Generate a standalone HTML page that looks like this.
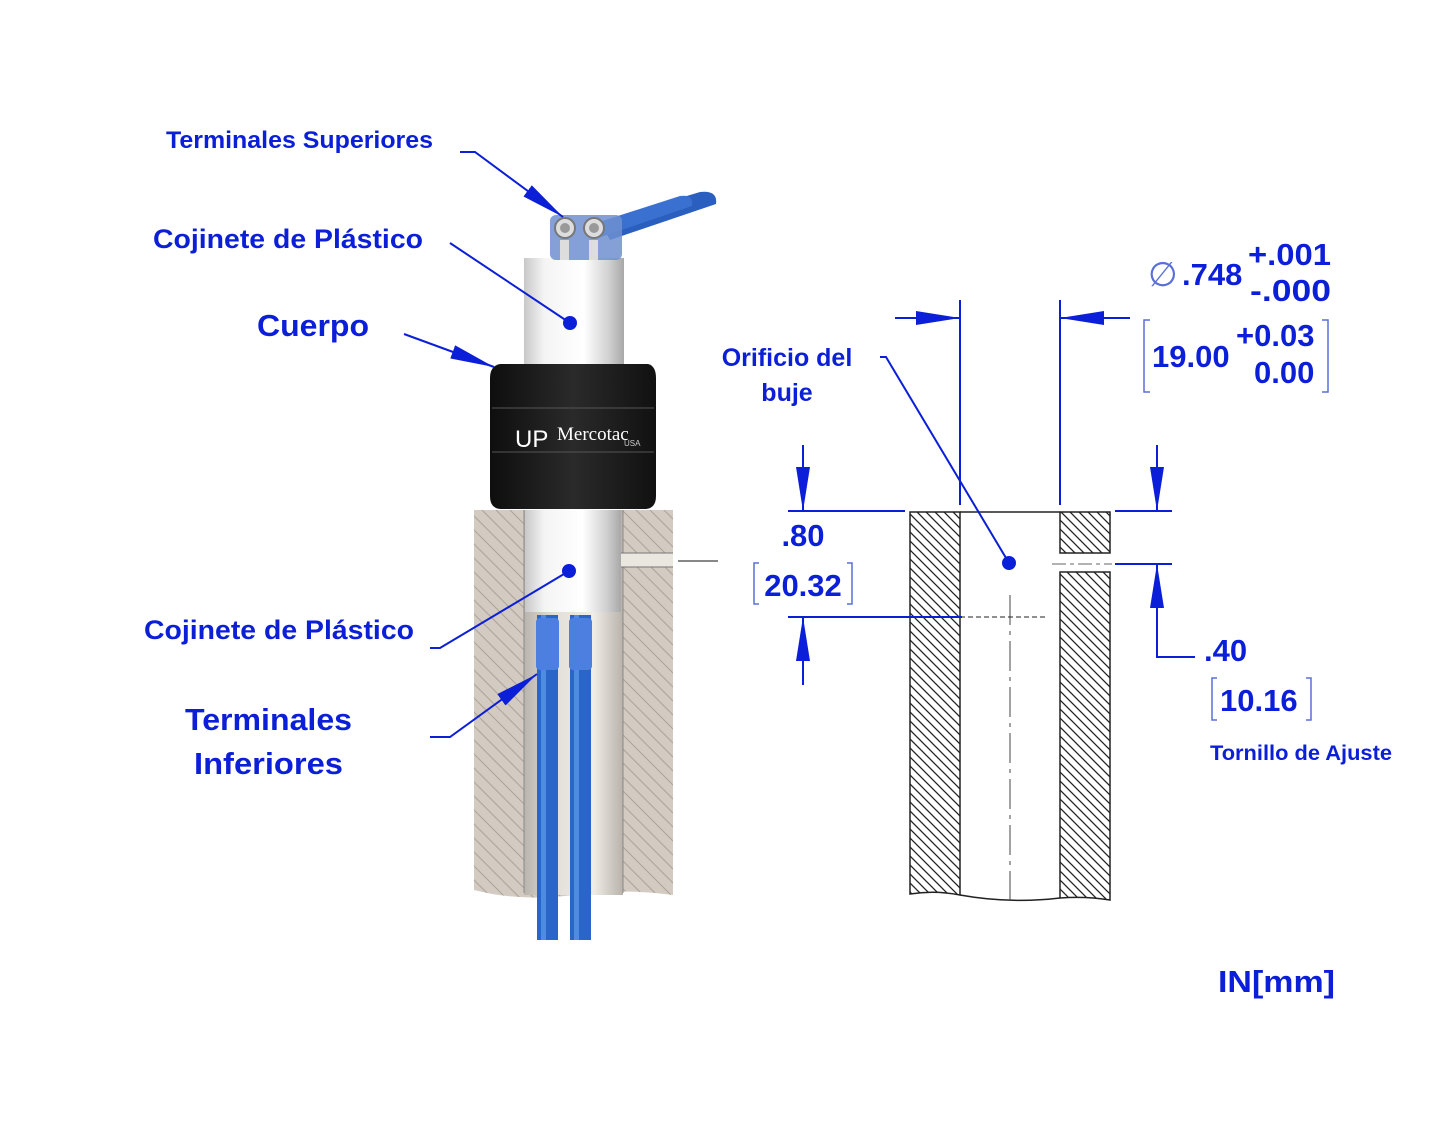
<!DOCTYPE html>
<html><head><meta charset="utf-8"><style>
html,body{margin:0;padding:0;background:#fff;}
svg{display:block;}
text{font-family:"Liberation Sans",sans-serif;font-weight:bold;fill:#0b1fd8;}
</style></head><body>
<svg width="1456" height="1125" viewBox="0 0 1456 1125" xmlns="http://www.w3.org/2000/svg">
<defs>
<pattern id="h1" width="14" height="14" patternUnits="userSpaceOnUse">
<rect width="14" height="14" fill="#d3cbc1"/><path d="M0,0 L14,14 M-3,11 L3,17 M11,-3 L17,3" stroke="#aba298" stroke-width="1"/></pattern>
<pattern id="h2" width="9" height="9" patternUnits="userSpaceOnUse">
<rect width="9" height="9" fill="#fff"/><path d="M0,0 L9,9 M-2,7 L2,11 M7,-2 L11,2" stroke="#222" stroke-width="1.3"/></pattern>
<linearGradient id="wc" x1="0" x2="1"><stop offset="0" stop-color="#c8c8c8"/><stop offset=".2" stop-color="#f4f4f4"/><stop offset=".6" stop-color="#fff"/><stop offset=".85" stop-color="#d0d0d0"/><stop offset="1" stop-color="#a8a8a8"/></linearGradient>
<linearGradient id="bk" x1="0" x2="1"><stop offset="0" stop-color="#0e0e0e"/><stop offset=".5" stop-color="#2a2a2a"/><stop offset="1" stop-color="#111"/></linearGradient>
<linearGradient id="bore" x1="0" x2="1"><stop offset="0" stop-color="#b9b4ad"/><stop offset=".3" stop-color="#e2ded8"/><stop offset=".7" stop-color="#f0ece7"/><stop offset="1" stop-color="#b8b2aa"/></linearGradient>
<marker id="ar2" viewBox="0 0 44 14" refX="44" refY="7" markerWidth="44" markerHeight="14" markerUnits="userSpaceOnUse" orient="auto"><path d="M0,0 L44,7 L0,14 Z" fill="#0b1fd8"/></marker>
</defs>

<path d="M474,510 H673 V895 Q620,888 573,895 Q520,902 474,890 Z" fill="url(#h1)"/>
<rect x="524" y="510" width="99" height="385" fill="url(#bore)"/>
<line x1="524" y1="510" x2="524" y2="893" stroke="#888"/>
<line x1="623" y1="510" x2="623" y2="893" stroke="#888"/>
<rect x="620" y="553" width="53" height="14" fill="#eae6e0"/>
<line x1="620" y1="553" x2="673" y2="553" stroke="#777"/><line x1="620" y1="567" x2="673" y2="567" stroke="#777"/>
<line x1="678" y1="561" x2="718" y2="561" stroke="#888" stroke-width="2"/>
<rect x="525" y="510" width="96" height="102" fill="url(#wc)"/>
<rect x="537" y="615" width="21" height="325" fill="#2a66c8"/>
<rect x="570" y="615" width="21" height="325" fill="#2a66c8"/>
<rect x="541" y="615" width="5" height="325" fill="#4f8be0"/>
<rect x="574" y="615" width="5" height="325" fill="#4f8be0"/>
<rect x="536" y="618" width="23" height="52" rx="4" fill="#4c7fe0"/>
<rect x="569" y="618" width="23" height="52" rx="4" fill="#4c7fe0"/>

<rect x="524" y="258" width="100" height="108" fill="url(#wc)"/>
<path d="M600,222 L700,192 Q718,190 716,204 L610,240 Z" fill="#2a5fc0"/>
<path d="M590,225 L680,196 Q694,194 692,206 L598,238 Z" fill="#3a70d0"/>
<rect x="550" y="215" width="72" height="45" rx="6" fill="#6f8fd0" opacity=".85"/>
<circle cx="565" cy="228" r="10" fill="#ddd" stroke="#777" stroke-width="2"/><circle cx="565" cy="228" r="5" fill="#999"/>
<circle cx="594" cy="228" r="10" fill="#ddd" stroke="#777" stroke-width="2"/><circle cx="594" cy="228" r="5" fill="#999"/>
<rect x="560" y="240" width="9" height="20" fill="#ddd"/><rect x="589" y="240" width="9" height="20" fill="#ddd"/>
<path d="M500,364 H648 Q656,366 656,378 V496 Q656,508 646,509 H500 Q490,508 490,496 V378 Q490,366 500,364 Z" fill="url(#bk)"/>
<line x1="492" y1="408" x2="654" y2="408" stroke="#555"/>
<line x1="492" y1="452" x2="654" y2="452" stroke="#555"/>
<text x="515" y="447" style="font-weight:normal;fill:#fff;font-size:24px">UP</text>
<text x="557" y="440" style="font-weight:normal;fill:#fff;font-size:19px;font-family:'Liberation Serif',serif">Mercotac</text>
<text x="624" y="446" style="font-weight:normal;fill:#ccc;font-size:8px">USA</text>

<text x="166" y="148" font-size="24" textLength="267" lengthAdjust="spacingAndGlyphs">Terminales Superiores</text>
<text x="153" y="248" font-size="27" textLength="270" lengthAdjust="spacingAndGlyphs">Cojinete de Plástico</text>
<text x="257" y="336" font-size="31" textLength="112" lengthAdjust="spacingAndGlyphs">Cuerpo</text>
<text x="144" y="639" font-size="27" textLength="270" lengthAdjust="spacingAndGlyphs">Cojinete de Plástico</text>
<text x="185" y="730" font-size="31" textLength="167" lengthAdjust="spacingAndGlyphs">Terminales</text>
<text x="194" y="774" font-size="31" textLength="149" lengthAdjust="spacingAndGlyphs">Inferiores</text>
<g stroke="#0b1fd8" stroke-width="2" fill="none">
<path d="M460,152 H475 L563,217" marker-end="url(#ar2)"/>
<path d="M450,243 L570,323"/>
<path d="M404,334 L494,367" marker-end="url(#ar2)"/>
<path d="M430,648 H440 L569,571"/>
<path d="M430,737 H450 L537,674" marker-end="url(#ar2)"/>
</g>
<circle cx="570" cy="323" r="7" fill="#0b1fd8"/>
<circle cx="569" cy="571" r="7" fill="#0b1fd8"/>

<path d="M910,512 H960 V895 Q935,890 910,894 Z" fill="url(#h2)" stroke="#222" stroke-width="1.5"/>
<path d="M1060,512 H1110 V553 H1060 Z M1060,572 H1110 V900 Q1085,896 1060,898 Z" fill="url(#h2)" stroke="#222" stroke-width="1.5"/>
<line x1="960" y1="512" x2="1060" y2="512" stroke="#222" stroke-width="1.5"/>
<path d="M960,895 Q1010,904 1060,898" stroke="#222" stroke-width="1.5" fill="none"/>
<line x1="1060" y1="553" x2="1110" y2="553" stroke="#222"/><line x1="1060" y1="572" x2="1110" y2="572" stroke="#222"/>
<line x1="1052" y1="564" x2="1112" y2="564" stroke="#666" stroke-dasharray="14,4,4,4"/>
<line x1="1010" y1="595" x2="1010" y2="902" stroke="#444" stroke-dasharray="30,6,4,6"/>
<line x1="960" y1="617" x2="1048" y2="617" stroke="#222" stroke-dasharray="5,3"/>
<g stroke="#0b1fd8" stroke-width="2" fill="none">
<line x1="960" y1="300" x2="960" y2="505"/><line x1="1060" y1="300" x2="1060" y2="505"/>
<line x1="895" y1="318" x2="960" y2="318" marker-end="url(#ar2)"/>
<line x1="1130" y1="318" x2="1060" y2="318" marker-end="url(#ar2)"/>
<line x1="788" y1="511" x2="905" y2="511"/>
<line x1="788" y1="617" x2="962" y2="617"/>
<line x1="803" y1="445" x2="803" y2="511" marker-end="url(#ar2)"/>
<line x1="803" y1="685" x2="803" y2="617" marker-end="url(#ar2)"/>
<line x1="1115" y1="511" x2="1172" y2="511"/>
<line x1="1115" y1="564" x2="1172" y2="564"/>
<line x1="1157" y1="445" x2="1157" y2="511" marker-end="url(#ar2)"/>
<path d="M1195,657 H1157 V564" marker-end="url(#ar2)"/>
<path d="M880,357 H886 L1009,563"/>
</g>
<circle cx="1009" cy="563" r="7" fill="#0b1fd8"/>
<g stroke="#5b6fd8" stroke-width="1.5" fill="none">
<path d="M759,563 H754 V604 H759"/><path d="M847,563 H852 V604 H847"/>
<path d="M1150,320 H1144 V392 H1150"/><path d="M1322,320 H1328 V392 H1322"/>
<path d="M1217,678 H1212 V720 H1217"/><path d="M1306,678 H1311 V720 H1306"/>
</g>
<text x="787" y="366" font-size="25" text-anchor="middle">Orificio del</text>
<text x="787" y="401" font-size="25" text-anchor="middle">buje</text>
<text x="803" y="546" font-size="31" text-anchor="middle">.80</text>
<text x="803" y="596" font-size="31" text-anchor="middle">20.32</text>
<text x="1148" y="286" font-size="34" style="font-weight:normal;fill:#5b6fd8">∅</text>
<text x="1182" y="285" font-size="31">.748</text>
<text x="1248" y="265" font-size="31" textLength="83" lengthAdjust="spacingAndGlyphs">+.001</text>
<text x="1250" y="301" font-size="31" textLength="81" lengthAdjust="spacingAndGlyphs">-.000</text>
<text x="1152" y="367" font-size="31">19.00</text>
<text x="1236" y="346" font-size="31">+0.03</text>
<text x="1254" y="383" font-size="31">0.00</text>
<text x="1204" y="661" font-size="31">.40</text>
<text x="1220" y="711" font-size="31">10.16</text>
<text x="1210" y="760" font-size="21" textLength="182" lengthAdjust="spacingAndGlyphs">Tornillo de Ajuste</text>
<text x="1218" y="992" font-size="31" textLength="117" lengthAdjust="spacingAndGlyphs">IN[mm]</text>
</svg>
</body></html>
